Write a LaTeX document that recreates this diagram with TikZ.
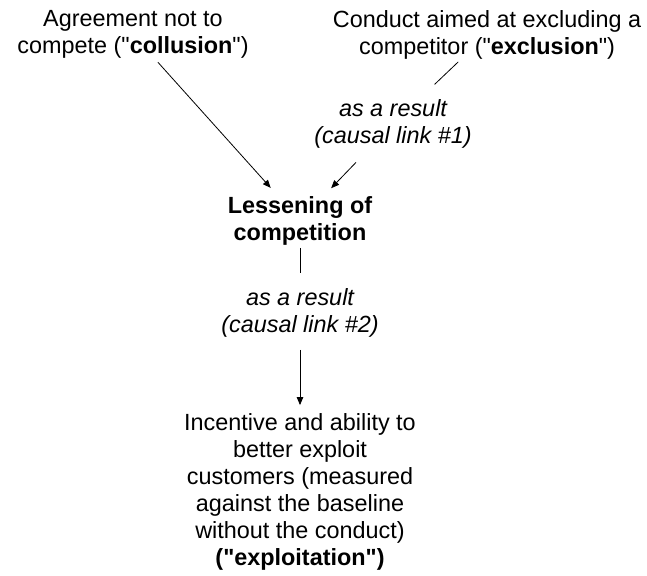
\documentclass[tikz,border=0pt]{standalone}
\usepackage{fontspec}
% plain straight quotes: no TeX quote mapping
\setmainfont{Liberation Sans}[Ligatures=TeXOff]
\usetikzlibrary{arrows.meta}
\begin{document}
\begin{tikzpicture}[x=1bp,y=-1bp,
  txt/.style={align=center, inner sep=0pt, outer sep=0pt,
    font=\fontsize{23.4bp}{27bp}\selectfont},
  link/.style={line width=0.8bp, draw=black},
  arrowlink/.style={link, -{Triangle[length=8bp,width=6.5bp]}}]
\useasboundingbox (0,0) rectangle (647,576);

% statements
\node[txt] (collusion) at (133,34.5)
  {Agreement not to\\compete ("\textbf{collusion}")};
\node[txt] (exclusion) at (487,34.5)
  {Conduct aimed at excluding a\\competitor ("\textbf{exclusion}")};
\node[txt] (link1) at (393,124)
  {\itshape as a result\\\itshape (causal link \#1)};
\node[txt, font=\fontsize{23.4bp}{27bp}\selectfont\bfseries] (lessening) at (300,220.5)
  {Lessening of\\competition};
\node[txt] (link2) at (300,312.5)
  {\itshape as a result\\\itshape (causal link \#2)};
\node[txt] (exploitation) at (300,491.5)
  {Incentive and ability to\\better exploit\\customers (measured\\against the baseline\\without the conduct)\\\textbf{("exploitation")}};

% connectors
\draw[arrowlink, shorten <=5bp, shorten >=11bp] (collusion) -- (lessening);
\draw[link, shorten <=4.4bp, shorten >=22bp] (exclusion) -- (link1);
\draw[arrowlink, shorten <=19.5bp, shorten >=11bp] (link1) -- (lessening);
\draw[link, shorten <=3bp, shorten >=15bp] (lessening) -- (link2);
\draw[arrowlink, shorten <=13bp, shorten >=8bp] (link2) -- (exploitation);
\end{tikzpicture}
\end{document}
